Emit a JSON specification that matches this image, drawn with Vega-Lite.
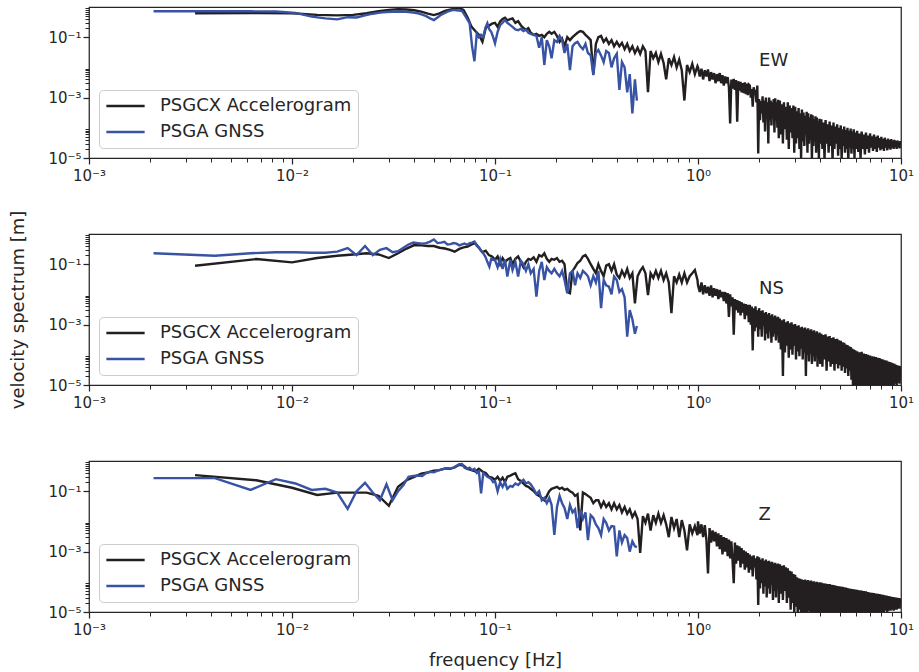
{
"$schema":"https://vega.github.io/schema/vega-lite/v6.json",
"padding":{"left":9,"top":0,"right":5,"bottom":5},
"background":"white",
"bounds":"flush",
"spacing":76,
"resolve":{"scale":{"color":"independent"},"legend":{"color":"independent"}},
"config":{
"font":"DejaVu Sans",
"view":{"stroke":"#262626","strokeWidth":1.25},
"axis":{"domain":false,"grid":false,"labelFont":"DejaVu Sans","labelFontSize":15,"labelColor":"#262626","tickColor":"#262626","titleFont":"DejaVu Sans","titleFontSize":18,"titleFontWeight":"normal","titleColor":"#262626","labelFlush":false,"labelOverlap":false,"labelBound":false},
"legend":{"orient":"bottom-left","offset":10,"padding":6,"fillColor":"rgba(255,255,255,0.8)","strokeColor":"#cccccc","strokeWidth":1,"cornerRadius":4,"symbolType":"stroke","symbolSize":1467,"symbolStrokeWidth":2.4,"labelFontSize":18,"labelFont":"DejaVu Sans","labelColor":"#262626","labelOffset":14,"rowPadding":6,"clipHeight":20,"labelLimit":400}
},
"datasets":{
"ewA":[{"f":0.00333,"v":0.62},{"f":0.00667,"v":0.63},{"f":0.01,"v":0.62},{"f":0.0133,"v":0.55},{"f":0.0167,"v":0.53},{"f":0.02,"v":0.55},{"f":0.0233,"v":0.62},{"f":0.0267,"v":0.72},{"f":0.03,"v":0.8},{"f":0.0333,"v":0.84},{"f":0.0367,"v":0.83},{"f":0.04,"v":0.78},{"f":0.0433,"v":0.7},{"f":0.0467,"v":0.6},{"f":0.05,"v":0.54},{"f":0.0533,"v":0.62},{"f":0.0567,"v":0.75},{"f":0.06,"v":0.82},{"f":0.0633,"v":0.88},{"f":0.0667,"v":0.92},{"f":0.07,"v":0.8},{"f":0.0733,"v":0.45},{"f":0.0767,"v":0.22},{"f":0.08,"v":0.16},{"f":0.0833,"v":0.12},{"f":0.0867,"v":0.07},{"f":0.09,"v":0.2},{"f":0.0933,"v":0.24},{"f":0.0967,"v":0.28},
{"f":0.1,"v":0.3},{"f":0.103,"v":0.22},{"f":0.106,"v":0.33},{"f":0.109,"v":0.4},{"f":0.112,"v":0.44},{"f":0.115,"v":0.36},{"f":0.119,"v":0.4},{"f":0.122,"v":0.42},{"f":0.126,"v":0.3},{"f":0.13,"v":0.34},{"f":0.134,"v":0.25},{"f":0.138,"v":0.2},{"f":0.142,"v":0.18},{"f":0.146,"v":0.2},{"f":0.15,"v":0.14},{"f":0.155,"v":0.12},{"f":0.16,"v":0.13},{"f":0.165,"v":0.11},{"f":0.17,"v":0.12},{"f":0.175,"v":0.1},{"f":0.18,"v":0.13},{"f":0.185,"v":0.15},{"f":0.19,"v":0.13},{"f":0.196,"v":0.15},{"f":0.202,"v":0.11},{"f":0.208,"v":0.07},{"f":0.214,"v":0.09},{"f":0.22,"v":0.05},{"f":0.227,"v":0.1},{"f":0.234,"v":0.08},{"f":0.241,"v":0.1},{"f":0.248,"v":0.12},{"f":0.255,"v":0.14},{"f":0.263,"v":0.16},{"f":0.271,"v":0.15},{"f":0.279,"v":0.12},{"f":0.287,"v":0.1},{"f":0.296,"v":0.08},{"f":0.305,"v":0.006},{"f":0.314,"v":0.06},{"f":0.323,"v":0.1},{"f":0.333,"v":0.11},{"f":0.343,"v":0.07},{"f":0.353,"v":0.09},{"f":0.364,"v":0.06},{"f":0.375,"v":0.08},{"f":0.386,"v":0.05},{"f":0.398,"v":0.07},{"f":0.41,"v":0.05},{"f":0.422,"v":0.065},{"f":0.435,"v":0.04},{"f":0.448,"v":0.06},{"f":0.461,"v":0.035},{"f":0.475,"v":0.05},{"f":0.489,"v":0.03},{"f":0.504,"v":0.045},{"f":0.519,"v":0.028},{"f":0.535,"v":0.05},{"f":0.551,"v":0.035},{"f":0.567,"v":0.0015},{"f":0.584,"v":0.035},{"f":0.602,"v":0.02},{"f":0.62,"v":0.03},{"f":0.638,"v":0.015},{"f":0.657,"v":0.028},{"f":0.677,"v":0.014},{"f":0.697,"v":0.004},{"f":0.718,"v":0.02},{"f":0.74,"v":0.012},{"f":0.762,"v":0.022},{"f":0.785,"v":0.01},{"f":0.808,"v":0.018},{"f":0.832,"v":0.008},{"f":0.857,"v":0.0008},{"f":0.883,"v":0.012},{"f":0.91,"v":0.007},{"f":0.937,"v":0.013},{"f":0.965,"v":0.006},{"f":0.994,"v":0.011},
{"f":1.0,"v":0.01},{"f":1.02,"v":0.005},{"f":1.04,"v":0.009},{"f":1.06,"v":0.004},{"f":1.08,"v":0.008},{"f":1.1,"v":0.005},{"f":1.12,"v":0.0085},{"f":1.14,"v":0.0035},{"f":1.16,"v":0.007},{"f":1.18,"v":0.004},{"f":1.2,"v":0.0065},{"f":1.22,"v":0.003},{"f":1.24,"v":0.006},{"f":1.26,"v":0.0035},{"f":1.28,"v":0.0065},{"f":1.3,"v":0.003},{"f":1.32,"v":0.0055},{"f":1.34,"v":0.0025},{"f":1.36,"v":0.005},{"f":1.38,"v":0.003},{"f":1.4,"v":0.0048},{"f":1.42,"v":0.0022},{"f":1.44,"v":1.4e-4},{"f":1.46,"v":0.004},{"f":1.48,"v":0.002},{"f":1.5,"v":0.0042},{"f":1.52,"v":0.0018},{"f":1.54,"v":0.0038},{"f":1.56,"v":1.6e-4},{"f":1.58,"v":0.0035},{"f":1.6,"v":0.0017},{"f":1.62,"v":0.0033},{"f":1.64,"v":0.0015},{"f":1.66,"v":0.003},{"f":1.68,"v":0.0014},{"f":1.7,"v":0.0032},{"f":1.72,"v":0.0013},{"f":1.74,"v":0.0029},{"f":1.76,"v":0.0012},{"f":1.78,"v":0.0027},
{"f":1.8,"v":2.5e-3},{"f":1.82,"v":1e-3},{"f":1.84,"v":1.9e-3},{"f":1.86,"v":5e-4},{"f":1.88,"v":2.2e-3},{"f":1.9,"v":1.5e-3},{"f":1.92,"v":1.6e-3},{"f":1.94,"v":7e-4},{"f":1.96,"v":2.5e-3},{"f":1.98,"v":1.4e-5},{"f":2.0,"v":9e-4},{"f":2.02,"v":1.8e-4},{"f":2.04,"v":7.7e-4},{"f":2.06,"v":3e-4},{"f":2.08,"v":1.1e-3},{"f":2.1,"v":1.5e-4},{"f":2.12,"v":8e-4},{"f":2.14,"v":7.5e-5},{"f":2.16,"v":1e-3},{"f":2.18,"v":2.2e-4},{"f":2.2,"v":7e-4},{"f":2.22,"v":3e-5},{"f":2.24,"v":1e-3},{"f":2.26,"v":1.8e-4},{"f":2.28,"v":8e-4},{"f":2.3,"v":1.2e-4},{"f":2.32,"v":7e-4},{"f":2.34,"v":3e-4},{"f":2.36,"v":9e-4},{"f":2.38,"v":7e-5},{"f":2.4,"v":9.5e-4},{"f":2.42,"v":2e-4},{"f":2.44,"v":7e-4},{"f":2.46,"v":1e-4},{"f":2.48,"v":8.5e-4},{"f":2.5,"v":4.5e-5},
{"f":2.53,"v":8e-4},{"f":2.56,"v":6e-5},{"f":2.59,"v":6e-4},{"f":2.62,"v":3e-5},{"f":2.65,"v":7e-4},{"f":2.68,"v":9e-5},{"f":2.71,"v":5e-4},{"f":2.74,"v":4e-5},{"f":2.77,"v":7e-4},{"f":2.8,"v":2e-5},{"f":2.83,"v":5.5e-4},{"f":2.86,"v":7e-5},{"f":2.89,"v":4.5e-4},{"f":2.92,"v":4.5e-5},{"f":2.95,"v":5.5e-4},{"f":2.98,"v":1.5e-5},{"f":3.01,"v":5e-4},{"f":3.04,"v":3e-5},{"f":3.07,"v":3.5e-4},{"f":3.1,"v":4.5e-5},{"f":3.13,"v":4.5e-4},{"f":3.16,"v":2e-5},{"f":3.19,"v":3e-4},{"f":3.22,"v":1e-5},{"f":3.25,"v":4e-4},{"f":3.28,"v":3.5e-5},{"f":3.31,"v":3.2e-4},{"f":3.34,"v":2.5e-5},{"f":3.37,"v":2.5e-4},{"f":3.4,"v":6e-5},{"f":3.43,"v":3.4e-4},{"f":3.46,"v":1.5e-5},{"f":3.49,"v":3e-4},{"f":3.52,"v":3e-5},{"f":3.55,"v":2.2e-4},{"f":3.58,"v":4e-5},{"f":3.61,"v":2.8e-4},{"f":3.64,"v":8e-6},{"f":3.67,"v":2.6e-4},{"f":3.7,"v":2.5e-5},{"f":3.73,"v":1.9e-4},{"f":3.76,"v":3.5e-5},{"f":3.79,"v":2.4e-4},{"f":3.82,"v":1.5e-5},{"f":3.85,"v":2.2e-4},{"f":3.88,"v":2.5e-5},{"f":3.91,"v":1.6e-4},{"f":3.94,"v":9e-6},{"f":3.97,"v":2e-4},{"f":4.0,"v":3e-5},
{"f":4.05,"v":1.9e-4},{"f":4.1,"v":2e-5},{"f":4.15,"v":1.5e-4},{"f":4.2,"v":9e-6},{"f":4.25,"v":1.8e-4},{"f":4.3,"v":3e-5},{"f":4.35,"v":1.3e-4},{"f":4.4,"v":1.5e-5},{"f":4.45,"v":1.6e-4},{"f":4.5,"v":2.5e-5},{"f":4.55,"v":1.2e-4},{"f":4.6,"v":8e-6},{"f":4.65,"v":1.5e-4},{"f":4.7,"v":2e-5},{"f":4.75,"v":1.1e-4},{"f":4.8,"v":3e-5},{"f":4.85,"v":1.3e-4},{"f":4.9,"v":1.2e-5},{"f":4.95,"v":1e-4},{"f":5.0,"v":2e-5},{"f":5.05,"v":1.2e-4},{"f":5.1,"v":9e-6},{"f":5.15,"v":9e-5},{"f":5.2,"v":2.5e-5},{"f":5.25,"v":1.1e-4},{"f":5.3,"v":1.5e-5},{"f":5.35,"v":8.5e-5},{"f":5.4,"v":2e-5},{"f":5.45,"v":1e-4},{"f":5.5,"v":8e-6},{"f":5.55,"v":8e-5},{"f":5.6,"v":2.2e-5},{"f":5.65,"v":9.5e-5},{"f":5.7,"v":1.4e-5},{"f":5.75,"v":7.5e-5},{"f":5.8,"v":2e-5},{"f":5.85,"v":9e-5},{"f":5.9,"v":1e-5},{"f":5.95,"v":7e-5},{"f":6.0,"v":2e-5},
{"f":6.08,"v":8e-5},{"f":6.16,"v":1.6e-5},{"f":6.24,"v":6.5e-5},{"f":6.32,"v":1e-5},{"f":6.4,"v":7.5e-5},{"f":6.48,"v":2e-5},{"f":6.56,"v":6e-5},{"f":6.64,"v":1.3e-5},{"f":6.72,"v":7e-5},{"f":6.8,"v":2e-5},{"f":6.88,"v":5.5e-5},{"f":6.96,"v":1.5e-5},{"f":7.04,"v":6.5e-5},{"f":7.12,"v":2.2e-5},{"f":7.2,"v":5.2e-5},{"f":7.28,"v":1.7e-5},{"f":7.36,"v":6e-5},{"f":7.44,"v":2e-5},{"f":7.52,"v":5e-5},{"f":7.6,"v":1.6e-5},{"f":7.68,"v":5.5e-5},{"f":7.76,"v":2.2e-5},{"f":7.84,"v":4.6e-5},{"f":7.92,"v":1.8e-5},{"f":8.0,"v":5e-5},{"f":8.08,"v":2e-5},{"f":8.16,"v":4.3e-5},{"f":8.24,"v":1.7e-5},{"f":8.32,"v":4.7e-5},{"f":8.4,"v":2.2e-5},{"f":8.48,"v":4e-5},{"f":8.56,"v":1.8e-5},{"f":8.64,"v":4.4e-5},{"f":8.72,"v":2.1e-5},{"f":8.8,"v":3.9e-5},{"f":8.88,"v":1.9e-5},{"f":8.96,"v":4.2e-5},{"f":9.04,"v":2.2e-5},{"f":9.12,"v":3.8e-5},{"f":9.2,"v":2e-5},{"f":9.28,"v":4e-5},{"f":9.36,"v":2.3e-5},{"f":9.44,"v":3.6e-5},{"f":9.52,"v":2e-5},{"f":9.6,"v":3.8e-5},{"f":9.68,"v":2.3e-5},{"f":9.76,"v":3.5e-5},{"f":9.84,"v":2.1e-5},{"f":9.92,"v":3.6e-5},{"f":10,"v":2.6e-5}],
"ewG":[{"f":0.00208,"v":0.72},{"f":0.00417,"v":0.72},{"f":0.00625,"v":0.72},{"f":0.00833,"v":0.71},{"f":0.0104,"v":0.64},{"f":0.0125,"v":0.48},{"f":0.0146,"v":0.42},{"f":0.0167,"v":0.39},{"f":0.0188,"v":0.46},{"f":0.0208,"v":0.45},{"f":0.0229,"v":0.53},{"f":0.025,"v":0.6},{"f":0.0271,"v":0.65},{"f":0.0292,"v":0.68},{"f":0.0313,"v":0.7},{"f":0.0333,"v":0.71},{"f":0.0354,"v":0.7},{"f":0.0375,"v":0.68},{"f":0.0396,"v":0.66},{"f":0.0417,"v":0.62},{"f":0.0438,"v":0.56},{"f":0.0458,"v":0.5},{"f":0.0479,"v":0.42},{"f":0.05,"v":0.37},{"f":0.0521,"v":0.45},{"f":0.0542,"v":0.55},{"f":0.0563,"v":0.62},{"f":0.0583,"v":0.7},{"f":0.0604,"v":0.76},{"f":0.0625,"v":0.8},{"f":0.0646,"v":0.78},{"f":0.0667,"v":0.76},{"f":0.0688,"v":0.74},{"f":0.0708,"v":0.55},{"f":0.0729,"v":0.4},{"f":0.075,"v":0.29},{"f":0.0771,"v":0.05},{"f":0.0792,"v":0.016},{"f":0.0813,"v":0.13},{"f":0.0833,"v":0.1},{"f":0.0854,"v":0.12},{"f":0.0875,"v":0.1},{"f":0.0896,"v":0.2},{"f":0.0917,"v":0.29},{"f":0.0938,"v":0.18},{"f":0.0958,"v":0.15},{"f":0.0979,"v":0.1},{"f":0.1,"v":0.063},
{"f":0.103,"v":0.15},{"f":0.106,"v":0.25},{"f":0.109,"v":0.3},{"f":0.112,"v":0.37},{"f":0.115,"v":0.3},{"f":0.119,"v":0.25},{"f":0.122,"v":0.22},{"f":0.126,"v":0.18},{"f":0.13,"v":0.17},{"f":0.134,"v":0.19},{"f":0.138,"v":0.16},{"f":0.142,"v":0.18},{"f":0.146,"v":0.14},{"f":0.15,"v":0.13},{"f":0.155,"v":0.12},{"f":0.16,"v":0.11},{"f":0.165,"v":0.045},{"f":0.17,"v":0.1},{"f":0.175,"v":0.012},{"f":0.18,"v":0.08},{"f":0.185,"v":0.05},{"f":0.19,"v":0.02},{"f":0.196,"v":0.08},{"f":0.202,"v":0.07},{"f":0.208,"v":0.11},{"f":0.214,"v":0.08},{"f":0.22,"v":0.03},{"f":0.227,"v":0.06},{"f":0.234,"v":0.0082},{"f":0.241,"v":0.05},{"f":0.248,"v":0.063},{"f":0.255,"v":0.07},{"f":0.263,"v":0.05},{"f":0.271,"v":0.04},{"f":0.279,"v":0.06},{"f":0.287,"v":0.03},{"f":0.296,"v":0.025},{"f":0.305,"v":0.0056},{"f":0.314,"v":0.03},{"f":0.323,"v":0.038},{"f":0.333,"v":0.025},{"f":0.343,"v":0.015},{"f":0.353,"v":0.035},{"f":0.364,"v":0.03},{"f":0.375,"v":0.01},{"f":0.386,"v":0.02},{"f":0.398,"v":0.028},{"f":0.41,"v":0.0018},{"f":0.422,"v":0.015},{"f":0.435,"v":0.01},{"f":0.448,"v":0.0015},{"f":0.461,"v":0.006},{"f":0.475,"v":3e-4},{"f":0.489,"v":0.004},{"f":0.5,"v":8e-4}],
"nsA":[{"f":0.00333,"v":0.089},{"f":0.00667,"v":0.148},{"f":0.01,"v":0.115},{"f":0.0133,"v":0.16},{"f":0.0167,"v":0.19},{"f":0.02,"v":0.21},{"f":0.0233,"v":0.23},{"f":0.0267,"v":0.21},{"f":0.03,"v":0.16},{"f":0.0333,"v":0.23},{"f":0.0367,"v":0.33},{"f":0.04,"v":0.43},{"f":0.0433,"v":0.42},{"f":0.0467,"v":0.4},{"f":0.05,"v":0.4},{"f":0.0533,"v":0.35},{"f":0.0567,"v":0.33},{"f":0.06,"v":0.3},{"f":0.0633,"v":0.26},{"f":0.0667,"v":0.32},{"f":0.07,"v":0.36},{"f":0.0733,"v":0.38},{"f":0.0767,"v":0.45},{"f":0.08,"v":0.5},{"f":0.0833,"v":0.35},{"f":0.0867,"v":0.25},{"f":0.09,"v":0.28},{"f":0.0933,"v":0.2},{"f":0.0967,"v":0.18},
{"f":0.1,"v":0.14},{"f":0.103,"v":0.18},{"f":0.106,"v":0.1},{"f":0.109,"v":0.16},{"f":0.112,"v":0.12},{"f":0.115,"v":0.14},{"f":0.119,"v":0.16},{"f":0.122,"v":0.1},{"f":0.126,"v":0.15},{"f":0.13,"v":0.18},{"f":0.134,"v":0.12},{"f":0.138,"v":0.08},{"f":0.142,"v":0.12},{"f":0.146,"v":0.15},{"f":0.15,"v":0.14},{"f":0.155,"v":0.17},{"f":0.16,"v":0.12},{"f":0.165,"v":0.2},{"f":0.17,"v":0.18},{"f":0.175,"v":0.23},{"f":0.18,"v":0.15},{"f":0.185,"v":0.12},{"f":0.19,"v":0.15},{"f":0.196,"v":0.14},{"f":0.202,"v":0.16},{"f":0.208,"v":0.12},{"f":0.214,"v":0.13},{"f":0.22,"v":0.1},{"f":0.227,"v":0.012},{"f":0.234,"v":0.011},{"f":0.241,"v":0.06},{"f":0.248,"v":0.08},{"f":0.255,"v":0.11},{"f":0.263,"v":0.13},{"f":0.271,"v":0.18},{"f":0.279,"v":0.2},{"f":0.287,"v":0.15},{"f":0.296,"v":0.1},{"f":0.305,"v":0.07},{"f":0.314,"v":0.05},{"f":0.323,"v":0.1},{"f":0.333,"v":0.06},{"f":0.343,"v":0.04},{"f":0.353,"v":0.09},{"f":0.364,"v":0.1},{"f":0.375,"v":0.06},{"f":0.386,"v":0.1},{"f":0.398,"v":0.045},{"f":0.41,"v":0.035},{"f":0.422,"v":0.06},{"f":0.435,"v":0.04},{"f":0.448,"v":0.07},{"f":0.461,"v":0.035},{"f":0.475,"v":0.05},{"f":0.489,"v":0.005},{"f":0.504,"v":0.04},{"f":0.519,"v":0.06},{"f":0.535,"v":0.08},{"f":0.551,"v":0.05},{"f":0.567,"v":0.0095},{"f":0.584,"v":0.05},{"f":0.602,"v":0.035},{"f":0.62,"v":0.06},{"f":0.638,"v":0.035},{"f":0.657,"v":0.06},{"f":0.677,"v":0.03},{"f":0.697,"v":0.05},{"f":0.718,"v":0.025},{"f":0.74,"v":0.0024},{"f":0.762,"v":0.04},{"f":0.785,"v":0.025},{"f":0.808,"v":0.045},{"f":0.832,"v":0.025},{"f":0.857,"v":0.05},{"f":0.883,"v":0.025},{"f":0.91,"v":0.04},{"f":0.937,"v":0.05},{"f":0.965,"v":0.064},{"f":0.994,"v":0.03},
{"f":1.0,"v":0.02},{"f":1.02,"v":0.012},{"f":1.04,"v":0.025},{"f":1.06,"v":0.01},{"f":1.08,"v":0.02},{"f":1.1,"v":0.011},{"f":1.12,"v":0.018},{"f":1.14,"v":0.009},{"f":1.16,"v":0.02},{"f":1.18,"v":0.008},{"f":1.2,"v":0.016},{"f":1.22,"v":0.009},{"f":1.24,"v":0.015},{"f":1.26,"v":0.007},{"f":1.28,"v":0.014},{"f":1.3,"v":0.008},{"f":1.32,"v":0.012},{"f":1.34,"v":0.006},{"f":1.36,"v":0.012},{"f":1.38,"v":0.005},{"f":1.4,"v":0.011},{"f":1.42,"v":0.0018},{"f":1.44,"v":0.01},{"f":1.46,"v":0.004},{"f":1.48,"v":0.008},{"f":1.5,"v":4.6e-4},{"f":1.52,"v":0.007},{"f":1.54,"v":0.003},{"f":1.56,"v":0.0065},{"f":1.58,"v":0.0025},{"f":1.6,"v":0.006},{"f":1.62,"v":0.002},{"f":1.64,"v":0.0055},{"f":1.66,"v":0.0025},{"f":1.68,"v":0.005},{"f":1.7,"v":0.0015},{"f":1.72,"v":0.0048},{"f":1.74,"v":0.002},{"f":1.76,"v":0.0045},{"f":1.78,"v":0.0012},
{"f":1.8,"v":4.5e-3},{"f":1.82,"v":1e-3},{"f":1.84,"v":4e-3},{"f":1.86,"v":1.4e-4},{"f":1.88,"v":3.5e-3},{"f":1.9,"v":6e-4},{"f":1.92,"v":4e-3},{"f":1.94,"v":8e-4},{"f":1.96,"v":3e-3},{"f":1.98,"v":4e-4},{"f":2.0,"v":3.5e-3},{"f":2.02,"v":7e-4},{"f":2.04,"v":2.8e-3},{"f":2.06,"v":4e-4},{"f":2.08,"v":3e-3},{"f":2.1,"v":9e-4},{"f":2.12,"v":2.4e-3},{"f":2.14,"v":3e-4},{"f":2.16,"v":2.6e-3},{"f":2.18,"v":5e-4},{"f":2.2,"v":2.2e-3},{"f":2.22,"v":3.5e-4},{"f":2.24,"v":2.4e-3},{"f":2.26,"v":6e-4},{"f":2.28,"v":2e-3},{"f":2.3,"v":2.5e-4},{"f":2.32,"v":2.2e-3},{"f":2.34,"v":4e-4},{"f":2.36,"v":1.8e-3},{"f":2.38,"v":5e-4},{"f":2.4,"v":2e-3},{"f":2.42,"v":3e-4},{"f":2.44,"v":1.7e-3},{"f":2.46,"v":4.5e-4},{"f":2.48,"v":1.8e-3},{"f":2.5,"v":2.5e-4},
{"f":2.53,"v":1.6e-3},{"f":2.56,"v":1.5e-4},{"f":2.59,"v":1.4e-3},{"f":2.62,"v":2e-5},{"f":2.65,"v":1.5e-3},{"f":2.68,"v":1.2e-4},{"f":2.71,"v":1.2e-3},{"f":2.74,"v":2e-4},{"f":2.77,"v":1.3e-3},{"f":2.8,"v":8e-5},{"f":2.83,"v":1.1e-3},{"f":2.86,"v":1.5e-4},{"f":2.89,"v":1.2e-3},{"f":2.92,"v":1e-4},{"f":2.95,"v":1e-3},{"f":2.98,"v":2e-4},{"f":3.01,"v":1.05e-3},{"f":3.04,"v":7e-5},{"f":3.07,"v":9e-4},{"f":3.1,"v":1.3e-4},{"f":3.13,"v":9.5e-4},{"f":3.16,"v":9e-5},{"f":3.19,"v":8e-4},{"f":3.22,"v":1.6e-4},{"f":3.25,"v":8.5e-4},{"f":3.28,"v":7e-5},{"f":3.31,"v":7.5e-4},{"f":3.34,"v":1.2e-4},{"f":3.37,"v":8e-4},{"f":3.4,"v":2e-5},{"f":3.43,"v":7e-4},{"f":3.46,"v":1e-4},{"f":3.49,"v":7.5e-4},{"f":3.52,"v":6e-5},{"f":3.55,"v":6.5e-4},{"f":3.58,"v":1.1e-4},{"f":3.61,"v":7e-4},{"f":3.64,"v":5e-5},{"f":3.67,"v":6e-4},{"f":3.7,"v":9e-5},{"f":3.73,"v":6.5e-4},{"f":3.76,"v":6e-5},{"f":3.79,"v":5.5e-4},{"f":3.82,"v":1e-4},{"f":3.85,"v":6e-4},{"f":3.88,"v":4e-5},{"f":3.91,"v":5e-4},{"f":3.94,"v":8e-5},{"f":3.97,"v":5.5e-4},{"f":4.0,"v":5e-5},
{"f":4.05,"v":5e-4},{"f":4.1,"v":4e-5},{"f":4.15,"v":4.5e-4},{"f":4.2,"v":7e-5},{"f":4.25,"v":4.8e-4},{"f":4.3,"v":3e-5},{"f":4.35,"v":4e-4},{"f":4.4,"v":6e-5},{"f":4.45,"v":4.2e-4},{"f":4.5,"v":4e-5},{"f":4.55,"v":3.6e-4},{"f":4.6,"v":5e-5},{"f":4.65,"v":3.8e-4},{"f":4.7,"v":3e-5},{"f":4.75,"v":3.3e-4},{"f":4.8,"v":5e-5},{"f":4.85,"v":3.4e-4},{"f":4.9,"v":3.5e-5},{"f":4.95,"v":3e-4},{"f":5.0,"v":4.5e-5},{"f":5.05,"v":2.9e-4},{"f":5.1,"v":3e-5},{"f":5.15,"v":2.6e-4},{"f":5.2,"v":4e-5},{"f":5.25,"v":2.5e-4},{"f":5.3,"v":2.5e-5},{"f":5.35,"v":2.2e-4},{"f":5.4,"v":3.5e-5},{"f":5.45,"v":2.1e-4},{"f":5.5,"v":2e-5},{"f":5.55,"v":1.9e-4},{"f":5.6,"v":3e-5},{"f":5.65,"v":1.8e-4},{"f":5.7,"v":1.5e-5},{"f":5.75,"v":1.6e-4},{"f":5.8,"v":1e-5},{"f":5.85,"v":1.5e-4},{"f":5.9,"v":8e-6},{"f":5.95,"v":1.4e-4},{"f":6.0,"v":9e-6},
{"f":6.08,"v":1.3e-4},{"f":6.16,"v":8e-6},{"f":6.24,"v":1.2e-4},{"f":6.32,"v":9e-6},{"f":6.4,"v":1.25e-4},{"f":6.48,"v":8e-6},{"f":6.56,"v":1.1e-4},{"f":6.64,"v":9e-6},{"f":6.72,"v":1.05e-4},{"f":6.8,"v":8e-6},{"f":6.88,"v":1e-4},{"f":6.96,"v":9e-6},{"f":7.04,"v":9.5e-5},{"f":7.12,"v":8e-6},{"f":7.2,"v":9e-5},{"f":7.28,"v":9e-6},{"f":7.36,"v":8.8e-5},{"f":7.44,"v":8e-6},{"f":7.52,"v":8.5e-5},{"f":7.6,"v":9e-6},{"f":7.68,"v":8e-5},{"f":7.76,"v":8e-6},{"f":7.84,"v":7.8e-5},{"f":7.92,"v":9e-6},{"f":8.0,"v":7.2e-5},{"f":8.08,"v":8e-6},{"f":8.16,"v":7e-5},{"f":8.24,"v":9e-6},{"f":8.32,"v":6.6e-5},{"f":8.4,"v":8e-6},{"f":8.48,"v":6.4e-5},{"f":8.56,"v":9e-6},{"f":8.64,"v":6e-5},{"f":8.72,"v":9e-6},{"f":8.8,"v":5.8e-5},{"f":8.88,"v":1e-5},{"f":8.96,"v":5.5e-5},{"f":9.04,"v":9e-6},{"f":9.12,"v":5.2e-5},{"f":9.2,"v":1e-5},{"f":9.28,"v":5e-5},{"f":9.36,"v":1.1e-5},{"f":9.44,"v":4.7e-5},{"f":9.52,"v":1e-5},{"f":9.6,"v":4.5e-5},{"f":9.68,"v":1.2e-5},{"f":9.76,"v":4.3e-5},{"f":9.84,"v":1.1e-5},{"f":9.92,"v":4.2e-5},{"f":10,"v":1.4e-5}],
"nsG":[{"f":0.00208,"v":0.23},{"f":0.00417,"v":0.19},{"f":0.00625,"v":0.23},{"f":0.00833,"v":0.25},{"f":0.0104,"v":0.25},{"f":0.0125,"v":0.24},{"f":0.0146,"v":0.24},{"f":0.0167,"v":0.26},{"f":0.0188,"v":0.34},{"f":0.0208,"v":0.2},{"f":0.0229,"v":0.4},{"f":0.025,"v":0.2},{"f":0.0271,"v":0.3},{"f":0.0292,"v":0.34},{"f":0.0313,"v":0.25},{"f":0.0333,"v":0.27},{"f":0.0354,"v":0.35},{"f":0.0375,"v":0.45},{"f":0.0396,"v":0.52},{"f":0.0417,"v":0.5},{"f":0.0438,"v":0.48},{"f":0.0458,"v":0.5},{"f":0.0479,"v":0.56},{"f":0.05,"v":0.66},{"f":0.0521,"v":0.5},{"f":0.0542,"v":0.52},{"f":0.0563,"v":0.55},{"f":0.0583,"v":0.45},{"f":0.0604,"v":0.46},{"f":0.0625,"v":0.5},{"f":0.0646,"v":0.48},{"f":0.0667,"v":0.42},{"f":0.0688,"v":0.45},{"f":0.0708,"v":0.48},{"f":0.0729,"v":0.44},{"f":0.075,"v":0.5},{"f":0.0771,"v":0.52},{"f":0.0792,"v":0.56},{"f":0.0813,"v":0.4},{"f":0.0833,"v":0.36},{"f":0.0854,"v":0.28},{"f":0.0875,"v":0.23},{"f":0.0896,"v":0.18},{"f":0.0917,"v":0.12},{"f":0.0938,"v":0.083},{"f":0.0958,"v":0.15},{"f":0.0979,"v":0.14},{"f":0.1,"v":0.138},
{"f":0.103,"v":0.08},{"f":0.106,"v":0.15},{"f":0.109,"v":0.07},{"f":0.112,"v":0.14},{"f":0.115,"v":0.039},{"f":0.119,"v":0.14},{"f":0.122,"v":0.064},{"f":0.126,"v":0.12},{"f":0.13,"v":0.039},{"f":0.134,"v":0.13},{"f":0.138,"v":0.1},{"f":0.142,"v":0.06},{"f":0.146,"v":0.1},{"f":0.15,"v":0.05},{"f":0.155,"v":0.07},{"f":0.16,"v":0.0085},{"f":0.165,"v":0.06},{"f":0.17,"v":0.12},{"f":0.175,"v":0.03},{"f":0.18,"v":0.08},{"f":0.185,"v":0.06},{"f":0.19,"v":0.05},{"f":0.196,"v":0.07},{"f":0.202,"v":0.05},{"f":0.208,"v":0.04},{"f":0.214,"v":0.06},{"f":0.22,"v":0.03},{"f":0.227,"v":0.011},{"f":0.234,"v":0.05},{"f":0.241,"v":0.06},{"f":0.248,"v":0.02},{"f":0.255,"v":0.05},{"f":0.263,"v":0.035},{"f":0.271,"v":0.06},{"f":0.279,"v":0.05},{"f":0.287,"v":0.04},{"f":0.296,"v":0.02},{"f":0.305,"v":0.04},{"f":0.314,"v":0.025},{"f":0.323,"v":0.06},{"f":0.333,"v":0.0035},{"f":0.343,"v":0.03},{"f":0.353,"v":0.02},{"f":0.364,"v":0.018},{"f":0.375,"v":0.01},{"f":0.386,"v":0.039},{"f":0.398,"v":0.03},{"f":0.41,"v":0.012},{"f":0.422,"v":0.015},{"f":0.435,"v":0.008},{"f":0.448,"v":4e-4},{"f":0.461,"v":0.003},{"f":0.475,"v":0.0015},{"f":0.489,"v":5e-4},{"f":0.5,"v":9e-4}],
"zA":[{"f":0.00333,"v":0.34},{"f":0.00667,"v":0.23},{"f":0.01,"v":0.13},{"f":0.0133,"v":0.075},{"f":0.0167,"v":0.09},{"f":0.02,"v":0.09},{"f":0.0233,"v":0.09},{"f":0.0267,"v":0.07},{"f":0.03,"v":0.033},{"f":0.0333,"v":0.14},{"f":0.0367,"v":0.23},{"f":0.04,"v":0.3},{"f":0.0433,"v":0.38},{"f":0.0467,"v":0.42},{"f":0.05,"v":0.48},{"f":0.0533,"v":0.5},{"f":0.0567,"v":0.57},{"f":0.06,"v":0.55},{"f":0.0633,"v":0.62},{"f":0.0667,"v":0.75},{"f":0.07,"v":0.7},{"f":0.0733,"v":0.55},{"f":0.0767,"v":0.5},{"f":0.08,"v":0.45},{"f":0.0833,"v":0.55},{"f":0.0867,"v":0.45},{"f":0.09,"v":0.4},{"f":0.0933,"v":0.3},{"f":0.0967,"v":0.28},
{"f":0.1,"v":0.24},{"f":0.103,"v":0.3},{"f":0.106,"v":0.22},{"f":0.109,"v":0.28},{"f":0.112,"v":0.2},{"f":0.115,"v":0.3},{"f":0.119,"v":0.33},{"f":0.122,"v":0.36},{"f":0.126,"v":0.39},{"f":0.13,"v":0.25},{"f":0.134,"v":0.22},{"f":0.138,"v":0.18},{"f":0.142,"v":0.15},{"f":0.146,"v":0.14},{"f":0.15,"v":0.12},{"f":0.155,"v":0.1},{"f":0.16,"v":0.08},{"f":0.165,"v":0.07},{"f":0.17,"v":0.06},{"f":0.175,"v":0.05},{"f":0.18,"v":0.07},{"f":0.185,"v":0.1},{"f":0.19,"v":0.12},{"f":0.196,"v":0.13},{"f":0.202,"v":0.14},{"f":0.208,"v":0.12},{"f":0.214,"v":0.13},{"f":0.22,"v":0.11},{"f":0.227,"v":0.12},{"f":0.234,"v":0.1},{"f":0.241,"v":0.09},{"f":0.248,"v":0.07},{"f":0.255,"v":0.08},{"f":0.263,"v":0.005},{"f":0.271,"v":0.09},{"f":0.279,"v":0.08},{"f":0.287,"v":0.07},{"f":0.296,"v":0.06},{"f":0.305,"v":0.04},{"f":0.314,"v":0.05},{"f":0.323,"v":0.05},{"f":0.333,"v":0.03},{"f":0.343,"v":0.045},{"f":0.353,"v":0.03},{"f":0.364,"v":0.04},{"f":0.375,"v":0.025},{"f":0.386,"v":0.04},{"f":0.398,"v":0.025},{"f":0.41,"v":0.035},{"f":0.422,"v":0.02},{"f":0.435,"v":0.03},{"f":0.448,"v":0.018},{"f":0.461,"v":0.025},{"f":0.475,"v":0.014},{"f":0.489,"v":0.02},{"f":0.504,"v":0.012},{"f":0.519,"v":9e-4},{"f":0.535,"v":0.015},{"f":0.551,"v":0.009},{"f":0.567,"v":0.018},{"f":0.584,"v":0.005},{"f":0.602,"v":0.016},{"f":0.62,"v":0.009},{"f":0.638,"v":0.018},{"f":0.657,"v":0.009},{"f":0.677,"v":0.016},{"f":0.697,"v":0.008},{"f":0.718,"v":0.003},{"f":0.74,"v":0.014},{"f":0.762,"v":0.006},{"f":0.785,"v":0.012},{"f":0.808,"v":0.003},{"f":0.832,"v":0.011},{"f":0.857,"v":0.005},{"f":0.883,"v":0.0011},{"f":0.91,"v":0.008},{"f":0.937,"v":0.004},{"f":0.965,"v":0.007},{"f":0.994,"v":0.0035},
{"f":1.0,"v":0.01},{"f":1.02,"v":0.004},{"f":1.04,"v":0.008},{"f":1.06,"v":0.003},{"f":1.08,"v":0.0075},{"f":1.1,"v":0.0025},{"f":1.12,"v":1.9e-4},{"f":1.14,"v":0.006},{"f":1.16,"v":0.002},{"f":1.18,"v":0.005},{"f":1.2,"v":0.0022},{"f":1.22,"v":0.0045},{"f":1.24,"v":0.0015},{"f":1.26,"v":0.004},{"f":1.28,"v":0.0012},{"f":1.3,"v":0.0035},{"f":1.32,"v":8e-4},{"f":1.34,"v":0.003},{"f":1.36,"v":0.001},{"f":1.38,"v":0.0028},{"f":1.4,"v":7e-4},{"f":1.42,"v":0.0025},{"f":1.44,"v":6e-4},{"f":1.46,"v":0.0022},{"f":1.48,"v":5e-4},{"f":1.5,"v":9e-5},{"f":1.52,"v":0.002},{"f":1.54,"v":4e-4},{"f":1.56,"v":0.0016},{"f":1.58,"v":5e-4},{"f":1.6,"v":0.0015},{"f":1.62,"v":3e-4},{"f":1.64,"v":0.0013},{"f":1.66,"v":4e-4},{"f":1.68,"v":0.0011},{"f":1.7,"v":2.5e-4},{"f":1.72,"v":0.001},{"f":1.74,"v":3e-4},{"f":1.76,"v":9e-4},{"f":1.78,"v":2e-4},
{"f":1.8,"v":8e-4},{"f":1.82,"v":2.5e-4},{"f":1.84,"v":7e-4},{"f":1.86,"v":1.5e-4},{"f":1.88,"v":7.5e-4},{"f":1.9,"v":3e-4},{"f":1.92,"v":6e-4},{"f":1.94,"v":1.2e-4},{"f":1.96,"v":7e-4},{"f":1.98,"v":1.7e-5},{"f":2.0,"v":6.5e-4},{"f":2.02,"v":6e-5},{"f":2.04,"v":5.5e-4},{"f":2.06,"v":9e-5},{"f":2.08,"v":6e-4},{"f":2.1,"v":4e-5},{"f":2.12,"v":5e-4},{"f":2.14,"v":7e-5},{"f":2.16,"v":5.5e-4},{"f":2.18,"v":3e-5},{"f":2.2,"v":4.8e-4},{"f":2.22,"v":6e-5},{"f":2.24,"v":5e-4},{"f":2.26,"v":4e-5},{"f":2.28,"v":4.4e-4},{"f":2.3,"v":8e-5},{"f":2.32,"v":4.6e-4},{"f":2.34,"v":2.5e-5},{"f":2.36,"v":4e-4},{"f":2.38,"v":5e-5},{"f":2.4,"v":4.3e-4},{"f":2.42,"v":3e-5},{"f":2.44,"v":3.8e-4},{"f":2.46,"v":6e-5},{"f":2.48,"v":4e-4},{"f":2.5,"v":2e-5},
{"f":2.53,"v":3.8e-4},{"f":2.56,"v":4e-5},{"f":2.59,"v":3.4e-4},{"f":2.62,"v":2.5e-5},{"f":2.65,"v":3.5e-4},{"f":2.68,"v":5e-5},{"f":2.71,"v":3e-4},{"f":2.74,"v":2e-5},{"f":2.77,"v":2.8e-4},{"f":2.8,"v":3e-5},{"f":2.83,"v":2.3e-4},{"f":2.86,"v":1.2e-5},{"f":2.89,"v":2.2e-4},{"f":2.92,"v":2e-5},{"f":2.95,"v":1.8e-4},{"f":2.98,"v":9e-6},{"f":3.01,"v":1.7e-4},{"f":3.04,"v":1.5e-5},{"f":3.07,"v":1.4e-4},{"f":3.1,"v":8e-6},{"f":3.13,"v":1.3e-4},{"f":3.16,"v":1.2e-5},{"f":3.19,"v":1.25e-4},{"f":3.22,"v":8e-6},{"f":3.25,"v":1.2e-4},{"f":3.28,"v":1e-5},{"f":3.31,"v":1.15e-4},{"f":3.34,"v":8e-6},{"f":3.37,"v":1.2e-4},{"f":3.4,"v":9e-6},{"f":3.43,"v":1.1e-4},{"f":3.46,"v":8e-6},{"f":3.49,"v":1.15e-4},{"f":3.52,"v":1.1e-5},{"f":3.55,"v":1.05e-4},{"f":3.58,"v":8e-6},{"f":3.61,"v":1.1e-4},{"f":3.64,"v":9e-6},{"f":3.67,"v":1e-4},{"f":3.7,"v":8e-6},{"f":3.73,"v":1.05e-4},{"f":3.76,"v":1e-5},{"f":3.79,"v":9.5e-5},{"f":3.82,"v":8e-6},{"f":3.85,"v":1e-4},{"f":3.88,"v":9e-6},{"f":3.91,"v":9.2e-5},{"f":3.94,"v":8e-6},{"f":3.97,"v":9.6e-5},{"f":4.0,"v":9e-6},
{"f":4.05,"v":9.5e-5},{"f":4.1,"v":8e-6},{"f":4.15,"v":9e-5},{"f":4.2,"v":9e-6},{"f":4.25,"v":8.8e-5},{"f":4.3,"v":8e-6},{"f":4.35,"v":8.5e-5},{"f":4.4,"v":1e-5},{"f":4.45,"v":8.4e-5},{"f":4.5,"v":8e-6},{"f":4.55,"v":8e-5},{"f":4.6,"v":9e-6},{"f":4.65,"v":7.8e-5},{"f":4.7,"v":8e-6},{"f":4.75,"v":7.5e-5},{"f":4.8,"v":9e-6},{"f":4.85,"v":7.3e-5},{"f":4.9,"v":8e-6},{"f":4.95,"v":7.1e-5},{"f":5.0,"v":9e-6},{"f":5.05,"v":7e-5},{"f":5.1,"v":8e-6},{"f":5.15,"v":6.8e-5},{"f":5.2,"v":9e-6},{"f":5.25,"v":6.6e-5},{"f":5.3,"v":8e-6},{"f":5.35,"v":6.4e-5},{"f":5.4,"v":9e-6},{"f":5.45,"v":6.2e-5},{"f":5.5,"v":8e-6},{"f":5.55,"v":6e-5},{"f":5.6,"v":9e-6},{"f":5.65,"v":5.9e-5},{"f":5.7,"v":8e-6},{"f":5.75,"v":5.8e-5},{"f":5.8,"v":9e-6},{"f":5.85,"v":5.6e-5},{"f":5.9,"v":8e-6},{"f":5.95,"v":5.5e-5},{"f":6.0,"v":9e-6},
{"f":6.08,"v":5.4e-5},{"f":6.16,"v":8e-6},{"f":6.24,"v":5.2e-5},{"f":6.32,"v":9e-6},{"f":6.4,"v":5.1e-5},{"f":6.48,"v":8e-6},{"f":6.56,"v":4.9e-5},{"f":6.64,"v":9e-6},{"f":6.72,"v":4.8e-5},{"f":6.8,"v":8e-6},{"f":6.88,"v":4.6e-5},{"f":6.96,"v":9e-6},{"f":7.04,"v":4.4e-5},{"f":7.12,"v":9e-6},{"f":7.2,"v":4.3e-5},{"f":7.28,"v":8e-6},{"f":7.36,"v":4.2e-5},{"f":7.44,"v":9e-6},{"f":7.52,"v":4.1e-5},{"f":7.6,"v":9e-6},{"f":7.68,"v":4e-5},{"f":7.76,"v":1e-5},{"f":7.84,"v":3.9e-5},{"f":7.92,"v":9e-6},{"f":8.0,"v":3.8e-5},{"f":8.08,"v":1e-5},{"f":8.16,"v":3.7e-5},{"f":8.24,"v":1e-5},{"f":8.32,"v":3.6e-5},{"f":8.4,"v":1.1e-5},{"f":8.48,"v":3.5e-5},{"f":8.56,"v":1e-5},{"f":8.64,"v":3.4e-5},{"f":8.72,"v":1.1e-5},{"f":8.8,"v":3.3e-5},{"f":8.88,"v":1.1e-5},{"f":8.96,"v":3.2e-5},{"f":9.04,"v":1.2e-5},{"f":9.12,"v":3.1e-5},{"f":9.2,"v":1.1e-5},{"f":9.28,"v":3.05e-5},{"f":9.36,"v":1.2e-5},{"f":9.44,"v":3e-5},{"f":9.52,"v":1.2e-5},{"f":9.6,"v":2.95e-5},{"f":9.68,"v":1.3e-5},{"f":9.76,"v":2.9e-5},{"f":9.84,"v":1.3e-5},{"f":9.92,"v":2.85e-5},{"f":10,"v":1.6e-5}],
"zG":[{"f":0.00208,"v":0.27},{"f":0.00417,"v":0.27},{"f":0.00625,"v":0.11},{"f":0.00833,"v":0.25},{"f":0.0104,"v":0.18},{"f":0.0125,"v":0.11},{"f":0.0146,"v":0.12},{"f":0.0167,"v":0.09},{"f":0.0188,"v":0.026},{"f":0.0208,"v":0.1},{"f":0.0229,"v":0.19},{"f":0.025,"v":0.09},{"f":0.0271,"v":0.05},{"f":0.0292,"v":0.17},{"f":0.0313,"v":0.05},{"f":0.0333,"v":0.1},{"f":0.0354,"v":0.16},{"f":0.0375,"v":0.3},{"f":0.0396,"v":0.32},{"f":0.0417,"v":0.33},{"f":0.0438,"v":0.32},{"f":0.0458,"v":0.4},{"f":0.0479,"v":0.44},{"f":0.05,"v":0.42},{"f":0.0521,"v":0.48},{"f":0.0542,"v":0.52},{"f":0.0563,"v":0.55},{"f":0.0583,"v":0.58},{"f":0.0604,"v":0.57},{"f":0.0625,"v":0.6},{"f":0.0646,"v":0.7},{"f":0.0667,"v":0.78},{"f":0.0688,"v":0.8},{"f":0.0708,"v":0.6},{"f":0.0729,"v":0.55},{"f":0.075,"v":0.6},{"f":0.0771,"v":0.5},{"f":0.0792,"v":0.55},{"f":0.0813,"v":0.4},{"f":0.0833,"v":0.45},{"f":0.0854,"v":0.085},{"f":0.0875,"v":0.4},{"f":0.0896,"v":0.35},{"f":0.0917,"v":0.3},{"f":0.0938,"v":0.28},{"f":0.0958,"v":0.25},{"f":0.0979,"v":0.2},{"f":0.1,"v":0.22},
{"f":0.103,"v":0.1},{"f":0.106,"v":0.2},{"f":0.109,"v":0.14},{"f":0.112,"v":0.2},{"f":0.115,"v":0.12},{"f":0.119,"v":0.15},{"f":0.122,"v":0.14},{"f":0.126,"v":0.18},{"f":0.13,"v":0.16},{"f":0.134,"v":0.2},{"f":0.138,"v":0.24},{"f":0.142,"v":0.18},{"f":0.146,"v":0.2},{"f":0.15,"v":0.17},{"f":0.155,"v":0.12},{"f":0.16,"v":0.08},{"f":0.165,"v":0.1},{"f":0.17,"v":0.05},{"f":0.175,"v":0.06},{"f":0.18,"v":0.04},{"f":0.185,"v":0.06},{"f":0.19,"v":0.035},{"f":0.196,"v":0.0036},{"f":0.202,"v":0.03},{"f":0.208,"v":0.07},{"f":0.214,"v":0.04},{"f":0.22,"v":0.028},{"f":0.227,"v":0.012},{"f":0.234,"v":0.035},{"f":0.241,"v":0.02},{"f":0.248,"v":0.025},{"f":0.255,"v":0.006},{"f":0.263,"v":0.025},{"f":0.271,"v":0.012},{"f":0.279,"v":0.02},{"f":0.287,"v":0.0024},{"f":0.296,"v":0.016},{"f":0.305,"v":0.013},{"f":0.314,"v":0.008},{"f":0.323,"v":0.006},{"f":0.333,"v":0.0035},{"f":0.343,"v":0.012},{"f":0.353,"v":0.009},{"f":0.364,"v":0.005},{"f":0.375,"v":0.007},{"f":0.386,"v":0.0068},{"f":0.398,"v":7e-4},{"f":0.41,"v":0.005},{"f":0.422,"v":0.002},{"f":0.435,"v":0.0035},{"f":0.448,"v":0.0028},{"f":0.461,"v":0.001},{"f":0.475,"v":0.0022},{"f":0.489,"v":0.0015},{"f":0.5,"v":0.0014}]
},
"vconcat":[
{"width":812,"height":151,
"encoding":{
"x":{"field":"f","type":"quantitative","scale":{"type":"log","domain":[0.001,10],"nice":false},"axis":{"title":null,"values":[0.001,0.002,0.003,0.004,0.005,0.006,0.007,0.008,0.009,0.01,0.02,0.03,0.04,0.05,0.06,0.07,0.08,0.09,0.1,0.2,0.3,0.4,0.5,0.6,0.7,0.8,0.9,1,2,3,4,5,6,7,8,9,10],"labelExpr":"datum.value == 0.001 ? '10⁻³' : datum.value == 0.01 ? '10⁻²' : datum.value == 0.1 ? '10⁻¹' : datum.value == 1 ? '10⁰' : datum.value == 10 ? '10¹' : ''","tickSize":{"condition":{"test":"indexof([0.001,0.01,0.1,1,10], datum.value) >= 0","value":6},"value":4},"tickWidth":{"condition":{"test":"indexof([0.001,0.01,0.1,1,10], datum.value) >= 0","value":1.25},"value":1},"labelPadding":4}},
"y":{"field":"v","type":"quantitative","scale":{"type":"log","domain":[0.00001,1],"nice":false},"axis":{"title":null,"values":[0.00001,0.00002,0.00003,0.00004,0.00005,0.00006,0.00007,0.00008,0.00009,0.001,0.002,0.003,0.004,0.005,0.006,0.007,0.008,0.009,0.1,0.2,0.3,0.4,0.5,0.6,0.7,0.8,0.9],"labelExpr":"datum.value == 0.1 ? '10⁻¹' : datum.value == 0.001 ? '10⁻³' : datum.value == 0.00001 ? '10⁻⁵' : ''","tickSize":{"condition":{"test":"indexof([0.1,0.001,0.00001], datum.value) >= 0","value":6},"value":4},"tickWidth":{"condition":{"test":"indexof([0.1,0.001,0.00001], datum.value) >= 0","value":1.25},"value":1},"labelPadding":2}}
},
"layer":[
{"data":{"name":"ewA"},"mark":{"type":"line","clip":true,"strokeWidth":2.4},"encoding":{"color":{"datum":"PSGCX Accelerogram","type":"nominal","scale":{"domain":["PSGCX Accelerogram","PSGA GNSS"],"range":["#231f20","#3953a4"]},"legend":{"title":null}}}},
{"data":{"name":"ewG"},"mark":{"type":"line","clip":true,"strokeWidth":2.4},"encoding":{"color":{"datum":"PSGA GNSS","type":"nominal","scale":{"domain":["PSGCX Accelerogram","PSGA GNSS"],"range":["#231f20","#3953a4"]},"legend":{"title":null}}}},
{"data":{"values":[{"f":2.36,"v":0.016,"t":"EW"}]},"mark":{"type":"text","fontSize":18,"font":"DejaVu Sans","color":"#262626"},"encoding":{"text":{"field":"t"}}}
]},
{"width":812,"height":151,
"encoding":{
"x":{"field":"f","type":"quantitative","scale":{"type":"log","domain":[0.001,10],"nice":false},"axis":{"title":null,"values":[0.001,0.002,0.003,0.004,0.005,0.006,0.007,0.008,0.009,0.01,0.02,0.03,0.04,0.05,0.06,0.07,0.08,0.09,0.1,0.2,0.3,0.4,0.5,0.6,0.7,0.8,0.9,1,2,3,4,5,6,7,8,9,10],"labelExpr":"datum.value == 0.001 ? '10⁻³' : datum.value == 0.01 ? '10⁻²' : datum.value == 0.1 ? '10⁻¹' : datum.value == 1 ? '10⁰' : datum.value == 10 ? '10¹' : ''","tickSize":{"condition":{"test":"indexof([0.001,0.01,0.1,1,10], datum.value) >= 0","value":6},"value":4},"tickWidth":{"condition":{"test":"indexof([0.001,0.01,0.1,1,10], datum.value) >= 0","value":1.25},"value":1},"labelPadding":4}},
"y":{"field":"v","type":"quantitative","scale":{"type":"log","domain":[0.00001,1],"nice":false},"axis":{"title":"velocity spectrum [m]","titlePadding":20,"values":[0.00001,0.00002,0.00003,0.00004,0.00005,0.00006,0.00007,0.00008,0.00009,0.001,0.002,0.003,0.004,0.005,0.006,0.007,0.008,0.009,0.1,0.2,0.3,0.4,0.5,0.6,0.7,0.8,0.9],"labelExpr":"datum.value == 0.1 ? '10⁻¹' : datum.value == 0.001 ? '10⁻³' : datum.value == 0.00001 ? '10⁻⁵' : ''","tickSize":{"condition":{"test":"indexof([0.1,0.001,0.00001], datum.value) >= 0","value":6},"value":4},"tickWidth":{"condition":{"test":"indexof([0.1,0.001,0.00001], datum.value) >= 0","value":1.25},"value":1},"labelPadding":2}}
},
"layer":[
{"data":{"name":"nsA"},"mark":{"type":"line","clip":true,"strokeWidth":2.4},"encoding":{"color":{"datum":"PSGCX Accelerogram","type":"nominal","scale":{"domain":["PSGCX Accelerogram","PSGA GNSS"],"range":["#231f20","#3953a4"]},"legend":{"title":null}}}},
{"data":{"name":"nsG"},"mark":{"type":"line","clip":true,"strokeWidth":2.4},"encoding":{"color":{"datum":"PSGA GNSS","type":"nominal","scale":{"domain":["PSGCX Accelerogram","PSGA GNSS"],"range":["#231f20","#3953a4"]},"legend":{"title":null}}}},
{"data":{"values":[{"f":2.3,"v":0.015,"t":"NS"}]},"mark":{"type":"text","fontSize":18,"font":"DejaVu Sans","color":"#262626"},"encoding":{"text":{"field":"t"}}}
]},
{"width":812,"height":151,
"encoding":{
"x":{"field":"f","type":"quantitative","scale":{"type":"log","domain":[0.001,10],"nice":false},"axis":{"title":"frequency [Hz]","titlePadding":14,"values":[0.001,0.002,0.003,0.004,0.005,0.006,0.007,0.008,0.009,0.01,0.02,0.03,0.04,0.05,0.06,0.07,0.08,0.09,0.1,0.2,0.3,0.4,0.5,0.6,0.7,0.8,0.9,1,2,3,4,5,6,7,8,9,10],"labelExpr":"datum.value == 0.001 ? '10⁻³' : datum.value == 0.01 ? '10⁻²' : datum.value == 0.1 ? '10⁻¹' : datum.value == 1 ? '10⁰' : datum.value == 10 ? '10¹' : ''","tickSize":{"condition":{"test":"indexof([0.001,0.01,0.1,1,10], datum.value) >= 0","value":6},"value":4},"tickWidth":{"condition":{"test":"indexof([0.001,0.01,0.1,1,10], datum.value) >= 0","value":1.25},"value":1},"labelPadding":4}},
"y":{"field":"v","type":"quantitative","scale":{"type":"log","domain":[0.00001,1],"nice":false},"axis":{"title":null,"values":[0.00001,0.00002,0.00003,0.00004,0.00005,0.00006,0.00007,0.00008,0.00009,0.001,0.002,0.003,0.004,0.005,0.006,0.007,0.008,0.009,0.1,0.2,0.3,0.4,0.5,0.6,0.7,0.8,0.9],"labelExpr":"datum.value == 0.1 ? '10⁻¹' : datum.value == 0.001 ? '10⁻³' : datum.value == 0.00001 ? '10⁻⁵' : ''","tickSize":{"condition":{"test":"indexof([0.1,0.001,0.00001], datum.value) >= 0","value":6},"value":4},"tickWidth":{"condition":{"test":"indexof([0.1,0.001,0.00001], datum.value) >= 0","value":1.25},"value":1},"labelPadding":2}}
},
"layer":[
{"data":{"name":"zA"},"mark":{"type":"line","clip":true,"strokeWidth":2.4},"encoding":{"color":{"datum":"PSGCX Accelerogram","type":"nominal","scale":{"domain":["PSGCX Accelerogram","PSGA GNSS"],"range":["#231f20","#3953a4"]},"legend":{"title":null}}}},
{"data":{"name":"zG"},"mark":{"type":"line","clip":true,"strokeWidth":2.4},"encoding":{"color":{"datum":"PSGA GNSS","type":"nominal","scale":{"domain":["PSGCX Accelerogram","PSGA GNSS"],"range":["#231f20","#3953a4"]},"legend":{"title":null}}}},
{"data":{"values":[{"f":2.13,"v":0.016,"t":"Z"}]},"mark":{"type":"text","fontSize":18,"font":"DejaVu Sans","color":"#262626"},"encoding":{"text":{"field":"t"}}}
]}
]
}
